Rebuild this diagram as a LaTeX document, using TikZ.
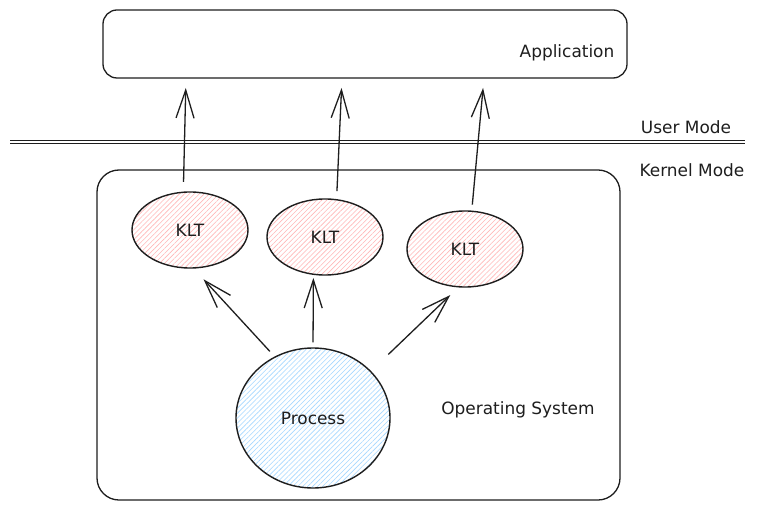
\documentclass[tikz,border=0pt]{standalone}
\usepackage{fontspec}
\setmainfont{DejaVu Sans}
\usetikzlibrary{shapes.geometric,arrows.meta,patterns.meta}
\definecolor{ink}{HTML}{1E1E1E}
\definecolor{pinkhatch}{HTML}{FFB8B8}
\definecolor{bluehatch}{HTML}{A5D8FF}
\tikzset{
  lbl/.style={font=\fontsize{17}{20}\selectfont, text=ink, inner sep=0pt},
  boxshape/.style={draw=ink, line width=1.3bp, rounded corners=14bp, inner sep=0pt},
  kltshape/.style={ellipse, draw=ink, line width=1.4bp, minimum width=116bp, minimum height=76bp, inner sep=0pt,
     pattern={Lines[angle=45,distance=3.5bp,line width=0.6bp]}, pattern color=pinkhatch, lbl},
  procshape/.style={ellipse, draw=ink, line width=1.4bp, minimum width=154bp, minimum height=140bp, inner sep=0pt,
     pattern={Lines[angle=45,distance=3.5bp,line width=0.6bp]}, pattern color=bluehatch, lbl},
  arr/.style={draw=ink, line width=1.3bp, -{Straight Barb[length=28bp,width=18bp,line width=1.3bp]}},
  sep/.style={draw=ink, line width=1.1bp},
}
\begin{document}
\begin{tikzpicture}[x=1bp,y=-1bp]
\useasboundingbox (0,0) rectangle (757,512);
\fill[white] (0,0) rectangle (757,512);

% boxes
\node[boxshape, minimum width=524bp, minimum height=68bp] (app) at (365,44) {};
\node[boxshape, rounded corners=22bp, minimum width=523bp, minimum height=330bp] (os) at (358.5,335) {};

% labels
\node[lbl] (applbl) at (567,53) {Application};
\node[lbl] (user) at (686,127) {User Mode};
\node[lbl] (kernel) at (692,170) {Kernel Mode};
\node[lbl] (oslbl) at (518,410) {Operating System};

% separator
\coordinate (sl) at (10,142);
\coordinate (sr) at (745,142);
\draw[sep] ([yshift=-1.6bp]sl) -- ([yshift=-1.6bp]sr);
\draw[sep] ([yshift=1.6bp]sl) -- ([yshift=1.6bp]sr);

% threads and process
\node[kltshape] (k1) at (190,230) {KLT};
\node[kltshape] (k2) at (325,237) {KLT};
\node[kltshape] (k3) at (465,249) {KLT};
\node[procshape] (p) at (313,418) {Process};

% targets on the application box
\coordinate (a1) at (186,78);
\coordinate (a2) at (342,78);
\coordinate (a3) at (484,78);

% arrows up to application
\draw[arr, shorten <=10bp, shorten >=10bp] (k1.100) -- (a1);
\draw[arr, shorten <=8bp, shorten >=10bp] (k2.73) -- (a2);
\draw[arr, shorten <=6bp, shorten >=10bp] (k3.80) -- (a3);

% arrows from process to threads
\draw[arr, shorten <=7bp, shorten >=15bp] (p.122) -- (k1.275);
\draw[arr, shorten <=5bp, shorten >=3bp] (p.north) -- (k2.253);
\draw[arr, shorten <=24bp, shorten >=11bp] (p.39) -- (k3.260);
\end{tikzpicture}
\end{document}
